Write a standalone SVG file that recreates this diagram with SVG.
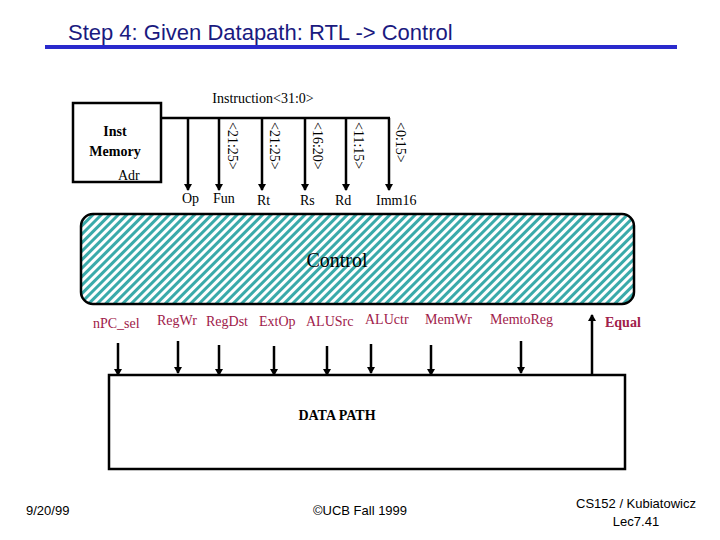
<svg xmlns="http://www.w3.org/2000/svg" width="720" height="540" viewBox="0 0 720 540">
<style>
.t{font-family:"Liberation Serif",serif;font-size:14px;fill:#000}
.s{font-family:"Liberation Serif",serif;font-size:14px;fill:#a0204a}
.f{font-family:"Liberation Sans",sans-serif;font-size:13px;fill:#000}
.ln{stroke:#000;stroke-width:2.5;fill:none}
</style>
<defs>
<marker id="a" markerWidth="8" markerHeight="8" refX="6" refY="4" orient="auto" markerUnits="userSpaceOnUse"><path d="M0,0L7,4L0,8z" fill="#000"/></marker>
<pattern id="h" width="6" height="6" patternUnits="userSpaceOnUse" patternTransform="rotate(45)"><rect width="6" height="6" fill="#fff"/><rect width="3" height="6" fill="#3aaaaa"/></pattern>
</defs>
<text x="68" y="40" font-family="Liberation Sans,sans-serif" font-size="22" fill="#1a1a80">Step 4: Given Datapath: RTL -&gt; Control</text>
<line x1="45" y1="47" x2="677" y2="47" stroke="#2a2acc" stroke-width="4"/>
<g id="instmem"><rect x="73" y="103" width="88" height="79" fill="#fff" class="ln" stroke-width="3"/>
<text x="115" y="136" class="t" font-weight="bold" text-anchor="middle">Inst</text>
<text x="115" y="156" class="t" font-weight="bold" text-anchor="middle">Memory</text>
<text x="118" y="180" class="t">Adr</text></g>
<text x="263" y="103" class="t" text-anchor="middle">Instruction&lt;31:0&gt;</text>
<g id="connectors" stroke="#000" stroke-width="2.5">
<line x1="161" y1="118" x2="390" y2="118"/>
<line x1="188" y1="118" x2="188" y2="190" marker-end="url(#a)"/>
<line x1="219" y1="118" x2="219" y2="190" marker-end="url(#a)"/>
<line x1="262" y1="118" x2="262" y2="190" marker-end="url(#a)"/>
<line x1="305" y1="118" x2="305" y2="190" marker-end="url(#a)"/>
<line x1="346" y1="118" x2="346" y2="190" marker-end="url(#a)"/>
<line x1="389" y1="118" x2="389" y2="190" marker-end="url(#a)"/>
<line x1="118" y1="343" x2="118" y2="375" marker-end="url(#a)"/>
<line x1="178" y1="341" x2="178" y2="373" marker-end="url(#a)"/>
<line x1="219" y1="345" x2="219" y2="375" marker-end="url(#a)"/>
<line x1="274" y1="346" x2="274" y2="375" marker-end="url(#a)"/>
<line x1="327" y1="346" x2="327" y2="375" marker-end="url(#a)"/>
<line x1="371" y1="344" x2="371" y2="373" marker-end="url(#a)"/>
<line x1="431" y1="345" x2="431" y2="375" marker-end="url(#a)"/>
<line x1="521" y1="341" x2="521" y2="373" marker-end="url(#a)"/>
<line x1="592" y1="375" x2="592" y2="315" marker-end="url(#a)"/>
</g>
<g font-family="Liberation Serif,serif" font-size="14">
<text transform="translate(228,122) rotate(90)">&lt;21:25&gt;</text>
<text transform="translate(270,122) rotate(90)">&lt;21:25&gt;</text>
<text transform="translate(313,122) rotate(90)">&lt;16:20&gt;</text>
<text transform="translate(354,122) rotate(90)">&lt;11:15&gt;</text>
<text transform="translate(396,122) rotate(90)">&lt;0:15&gt;</text>
</g>
<text x="182" y="203" class="t">Op</text><text x="213" y="203" class="t">Fun</text>
<text x="257" y="205" class="t">Rt</text><text x="300" y="205" class="t">Rs</text>
<text x="335" y="205" class="t">Rd</text><text x="376" y="205" class="t">Imm16</text>
<g id="control"><rect x="81" y="214" width="553" height="90" rx="12" fill="url(#h)" stroke="#000" stroke-width="2.5"/>
<text x="337" y="267" class="t" style="font-size:20px" text-anchor="middle">Control</text></g>
<g class="s">
<text x="93" y="328">nPC_sel</text><text x="157" y="325">RegWr</text><text x="206" y="326">RegDst</text>
<text x="259" y="326">ExtOp</text><text x="306" y="326">ALUSrc</text><text x="365" y="324">ALUctr</text>
<text x="425" y="324">MemWr</text><text x="490" y="324">MemtoReg</text>
<text x="605" y="327" font-weight="bold">Equal</text></g>
<g id="datapath"><rect x="109" y="375" width="516" height="94" fill="#fff" stroke="#000" stroke-width="2.5"/>
<text x="337" y="420" class="t" font-weight="bold" text-anchor="middle">DATA PATH</text></g>
<text x="26" y="515" class="f">9/20/99</text>
<text x="360" y="515" class="f" text-anchor="middle">©UCB Fall 1999</text>
<text x="636" y="508" class="f" text-anchor="middle">CS152 / Kubiatowicz</text>
<text x="636" y="526" class="f" text-anchor="middle">Lec7.41</text>
</svg>
